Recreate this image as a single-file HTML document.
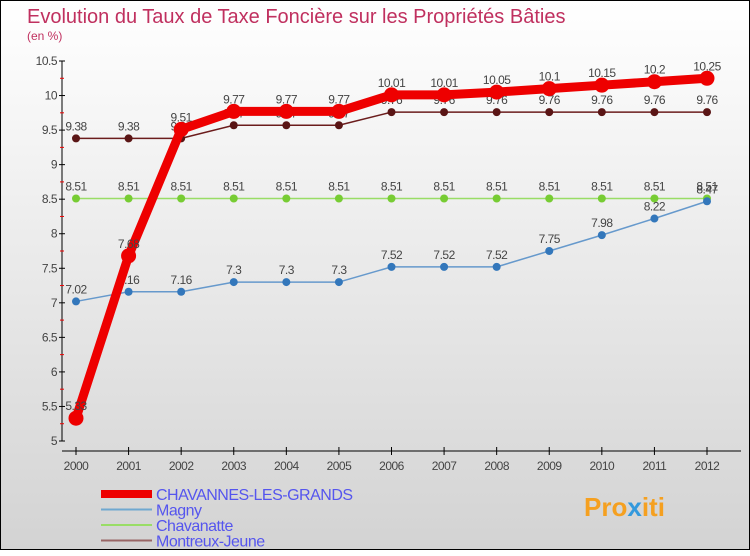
<!DOCTYPE html>
<html><head><meta charset="utf-8"><style>
body{margin:0;width:750px;height:550px;overflow:hidden;font-family:"Liberation Sans",sans-serif}
#wrap{position:absolute;left:0;top:0;width:748px;height:548px;border:1px solid #000;background:linear-gradient(#ffffff,#d3d3d3)}
</style></head><body>
<div id="wrap">
<svg id="chart" width="750" height="550">
<text x="26" y="22" font-size="20" fill="#c0305f">Evolution du Taux de Taxe Foncière sur les Propriétés Bâties</text>
<text x="26" y="39" font-size="12" fill="#c0305f">(en %)</text>
<g id="axes"></g><g id="series"></g><g id="legend"></g>
<text x="583" y="515" font-size="26" font-weight="bold" fill="#f5a020">Pro<tspan fill="#3399dd">x</tspan>iti</text>
</svg></div>
<script>
const years=[2000,2001,2002,2003,2004,2005,2006,2007,2008,2009,2010,2011,2012];
const yTicks=[5,5.5,6,6.5,7,7.5,8,8.5,9,9.5,10,10.5];
const chavannes=[5.33,7.68,9.51,9.77,9.77,9.77,10.01,10.01,10.05,10.1,10.15,10.2,10.25];
const magny=[7.02,7.16,7.16,7.3,7.3,7.3,7.52,7.52,7.52,7.75,7.98,8.22,8.47];
const chavanatte=[8.51,8.51,8.51,8.51,8.51,8.51,8.51,8.51,8.51,8.51,8.51,8.51,8.51];
const montreux=[9.38,9.38,9.38,9.57,9.57,9.57,9.76,9.76,9.76,9.76,9.76,9.76,9.76];
const seriesNames=["CHAVANNES-LES-GRANDS","Magny","Chavanatte","Montreux-Jeune"];
const NS="http://www.w3.org/2000/svg";
const X=i=>75+i*(706-75)/(years.length-1);
const Y=v=>440-(v-5)*(380/5.5);
function mk(p,t,a){const e=document.createElementNS(NS,t);for(const k in a)e.setAttribute(k,a[k]);p.appendChild(e);return e;}
const ax=document.getElementById('axes');
let l=mk(ax,'line',{x1:61,y1:Y(10.5),x2:61,y2:440,stroke:'#000'});


l=mk(ax,'line',{x1:61,y1:450,x2:740,y2:450,stroke:'#000'});


yTicks.forEach(v=>{mk(ax,'line',{x1:58,y1:Y(v),x2:64,y2:Y(v),stroke:'#000'});
mk(ax,'line',{x1:59,y1:Y(v+0.25),x2:63,y2:Y(v+0.25),stroke:v<10.5?'#e00':'none'});
const t=mk(ax,'text',{x:56,y:Y(v)+4,'font-size':12,'text-anchor':'end',fill:'#444','letter-spacing':'-0.5'});t.textContent=v;

});
years.forEach((y,i)=>{mk(ax,'line',{x1:X(i),y1:446,x2:X(i),y2:454,stroke:'#000'});
const t=mk(ax,'text',{x:X(i),y:469,'font-size':12,'text-anchor':'middle',fill:'#444','letter-spacing':'-0.5'});t.textContent=y;

});
const sg=document.getElementById('series');
const defs=[[montreux,'#6b1c1c','#5a1515',1.5,4],[chavanatte,'#99dd66','#77cc33',1.5,4],[magny,'#6699cc','#3377bb',1.5,4],[chavannes,'#ee0000','#ee0000',9,7.5]];
const nm=['montreux-jeune','chavanatte','magny','chavannes-les-grands'];
defs.forEach((d,k)=>{const g=mk(sg,'g',{});


mk(g,'polyline',{points:d[0].map((v,i)=>X(i)+','+Y(v)).join(' '),fill:'none',stroke:d[1],'stroke-width':d[3],'stroke-linejoin':'round'});
d[0].forEach((v,i)=>{const c=mk(g,'circle',{cx:X(i),cy:Y(v),r:d[4],fill:d[2]});


const t=mk(g,'text',{x:X(i),y:Y(v)-8,'font-size':12,'text-anchor':'middle',fill:'#444','letter-spacing':'-0.5'});t.textContent=v;

});});
const lg=document.getElementById('legend');
const lc=['#ee0000','#6fa8d0','#99dd66','#996666'],lw=[8,2,2,2];
seriesNames.forEach((n,i)=>{const y=493+i*15.5;const g=mk(lg,'g',{});


mk(g,'line',{x1:100,y1:y,x2:151,y2:y,stroke:lc[i],'stroke-width':lw[i]});
const t=mk(g,'text',{x:155,y:y+6,'font-size':16,fill:'#5555ee','letter-spacing':'-0.5'});t.textContent=n;});
</script>
</body></html>
